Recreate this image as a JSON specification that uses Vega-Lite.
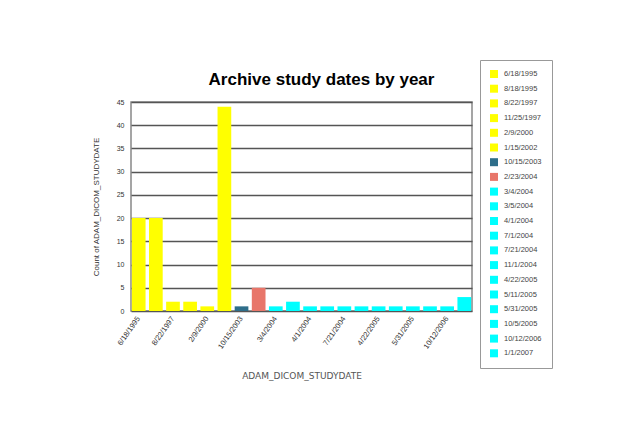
{
  "$schema": "https://vega.github.io/schema/vega-lite/v6.json",
  "width": 341,
  "height": 209,
  "autosize": {"type": "none"},
  "padding": {"left": 131, "top": 102, "right": 145, "bottom": 116},
  "background": "#ffffff",
  "title": {"text": "Archive study dates by year", "fontSize": 17, "font": "Liberation Sans", "fontWeight": "bold", "color": "#000000", "offset": -29, "dx": 20},
  "data": {"values": [
    {"date": "6/18/1995", "count": 20},
    {"date": "8/18/1995", "count": 20},
    {"date": "8/22/1997", "count": 2},
    {"date": "11/25/1997", "count": 2},
    {"date": "2/9/2000", "count": 1},
    {"date": "1/15/2002", "count": 44},
    {"date": "10/15/2003", "count": 1},
    {"date": "2/23/2004", "count": 5},
    {"date": "3/4/2004", "count": 1},
    {"date": "3/5/2004", "count": 2},
    {"date": "4/1/2004", "count": 1},
    {"date": "7/1/2004", "count": 1},
    {"date": "7/21/2004", "count": 1},
    {"date": "11/1/2004", "count": 1},
    {"date": "4/22/2005", "count": 1},
    {"date": "5/11/2005", "count": 1},
    {"date": "5/31/2005", "count": 1},
    {"date": "10/5/2005", "count": 1},
    {"date": "10/12/2006", "count": 1},
    {"date": "1/1/2007", "count": 3}
  ]},
  "mark": {"type": "bar"},
  "encoding": {
    "x": {
      "field": "date", "type": "nominal", "sort": null,
      "scale": {"paddingInner": 0.2, "paddingOuter": 0.05},
      "axis": {
        "values": ["6/18/1995", "8/22/1997", "2/9/2000", "10/15/2003", "3/4/2004", "4/1/2004", "7/21/2004", "4/22/2005", "5/31/2005", "10/12/2006"],
        "labelAngle": -55, "labelFontSize": 7.5, "labelColor": "#333333", "labelFont": "Liberation Sans",
        "ticks": false, "domain": false, "labelPadding": 6,
        "title": "ADAM_DICOM_STUDYDATE", "titleFontSize": 9, "titleFont": "DejaVu Sans", "titleFontWeight": "normal", "titleColor": "#555555", "titlePadding": 22
      }
    },
    "y": {
      "field": "count", "type": "quantitative",
      "scale": {"domain": [0, 45]},
      "axis": {
        "values": [0, 5, 10, 15, 20, 25, 30, 35, 40, 45],
        "labelFontSize": 7, "labelColor": "#333333", "labelFont": "Liberation Sans",
        "ticks": false, "domain": false, "labelPadding": 7,
        "grid": true, "gridColor": "#555555", "gridWidth": 1.3,
        "title": "Count of ADAM_DICOM_STUDYDATE", "titleFontSize": 8, "titleFont": "Liberation Sans", "titleFontWeight": "normal", "titleColor": "#333333", "titlePadding": 16
      }
    },
    "color": {
      "field": "date", "type": "nominal", "sort": null,
      "scale": {
        "domain": ["6/18/1995", "8/18/1995", "8/22/1997", "11/25/1997", "2/9/2000", "1/15/2002", "10/15/2003", "2/23/2004", "3/4/2004", "3/5/2004", "4/1/2004", "7/1/2004", "7/21/2004", "11/1/2004", "4/22/2005", "5/11/2005", "5/31/2005", "10/5/2005", "10/12/2006", "1/1/2007"],
        "range": ["#FFFF00", "#FFFF00", "#FFFF00", "#FFFF00", "#FFFF00", "#FFFF00", "#2E6E8A", "#E8766A", "#00FFFF", "#00FFFF", "#00FFFF", "#00FFFF", "#00FFFF", "#00FFFF", "#00FFFF", "#00FFFF", "#00FFFF", "#00FFFF", "#00FFFF", "#00FFFF"]
      },
      "legend": {
        "orient": "none", "legendX": 349, "legendY": -42,
        "title": null, "symbolType": "square", "symbolSize": 64, "symbolStrokeWidth": 0,
        "labelFontSize": 7.5, "labelColor": "#444444", "labelFont": "Liberation Sans", "labelOffset": 6,
        "rowPadding": 6.7, "padding": 10, "fillColor": "#ffffff", "strokeColor": "#999999"
      }
    }
  },
  "config": {
    "view": {"stroke": "#888888", "strokeWidth": 1.5}
  }
}
